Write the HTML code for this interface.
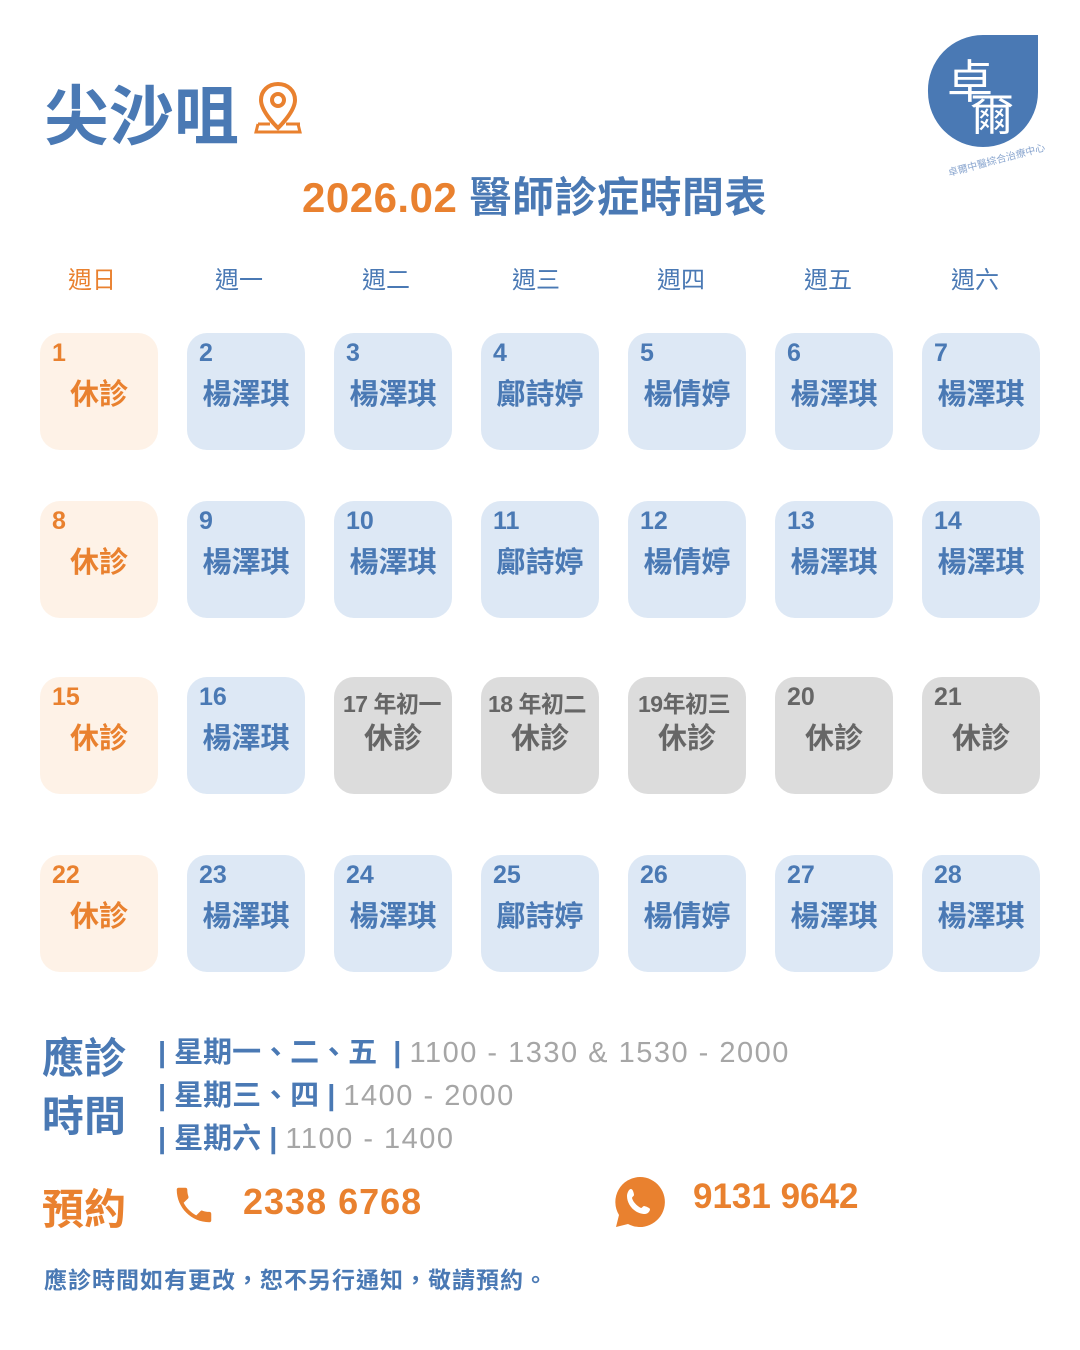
<!DOCTYPE html>
<html><head><meta charset="utf-8">
<style>
body{margin:0;width:1080px;height:1350px;background:#fff;position:relative;overflow:hidden;font-family:"Liberation Sans","Noto Sans CJK TC",sans-serif}
.a{position:absolute;white-space:nowrap}
.c{position:absolute;width:118px;height:117px;border-radius:20px;background:#dde8f5;color:#4a79b4}
.c.o{background:#fef2e7;color:#e9812f}
.c.g{background:#dcdcdc;color:#666}
.c .n{position:absolute;left:12px;top:6px;font-size:25px;font-weight:bold;white-space:nowrap}
.c .s{font-size:23px;top:8px;letter-spacing:-0.5px}
.c .t{position:absolute;left:0;right:0;top:38px;text-align:center;font-size:29px;font-weight:bold}
.h{position:absolute;top:260px;font-size:24px;color:#4a79b4;width:120px;text-align:center}
.gr{color:#a6a6a6;font-weight:normal;letter-spacing:1.5px}
</style></head><body>
<div class="a" style="left:44px;top:64px;font-size:65px;font-weight:bold;color:#4a79b4">尖沙咀</div>
<svg class="a" style="left:254px;top:80px" width="50" height="56" viewBox="0 0 50 56"><path d="M24 4C14 4 7 11 7 20c0 12 17 28 17 28s17-16 17-28C41 11 34 4 24 4z" fill="none" stroke="#e9812f" stroke-width="4"/><circle cx="24" cy="20" r="6" fill="none" stroke="#e9812f" stroke-width="4"/><path d="M4 44h12M32 44h14M4 44 2 52h44l-2-8" fill="none" stroke="#e9812f" stroke-width="3"/></svg>
<div class="a" style="left:302px;top:164px;font-size:42px;font-weight:bold;color:#e9812f;letter-spacing:0.5px">2026.02 <span style="color:#4a79b4">醫師診症時間表</span></div>
<svg class="a" style="left:900px;top:10px" width="170" height="170">
<path d="M28 82a55 55 0 1 0 110 0V25H83a55 55 0 0 0-55 57z" fill="#4a79b4"/>
<text x="70" y="88" font-size="46" fill="#fff" text-anchor="middle">卓</text>
<text x="92" y="120" font-size="44" fill="#fff" text-anchor="middle">爾</text>
<text x="48" y="158" font-size="10" fill="#8aa6cf" transform="rotate(-15 80 158)">卓爾中醫綜合治療中心</text>
</svg>
<div class="h" style="left:32px;color:#e9812f">週日</div>
<div class="h" style="left:179px">週一</div>
<div class="h" style="left:326px">週二</div>
<div class="h" style="left:476px">週三</div>
<div class="h" style="left:621px">週四</div>
<div class="h" style="left:768px">週五</div>
<div class="h" style="left:915px">週六</div>

<div class="c o" style="left:40px;top:333px"><span class="n">1</span><span class="t">休診</span></div>
<div class="c" style="left:187px;top:333px"><span class="n">2</span><span class="t">楊澤琪</span></div>
<div class="c" style="left:334px;top:333px"><span class="n">3</span><span class="t">楊澤琪</span></div>
<div class="c" style="left:481px;top:333px"><span class="n">4</span><span class="t">鄺詩婷</span></div>
<div class="c" style="left:628px;top:333px"><span class="n">5</span><span class="t">楊倩婷</span></div>
<div class="c" style="left:775px;top:333px"><span class="n">6</span><span class="t">楊澤琪</span></div>
<div class="c" style="left:922px;top:333px"><span class="n">7</span><span class="t">楊澤琪</span></div>

<div class="c o" style="left:40px;top:501px"><span class="n">8</span><span class="t">休診</span></div>
<div class="c" style="left:187px;top:501px"><span class="n">9</span><span class="t">楊澤琪</span></div>
<div class="c" style="left:334px;top:501px"><span class="n">10</span><span class="t">楊澤琪</span></div>
<div class="c" style="left:481px;top:501px"><span class="n">11</span><span class="t">鄺詩婷</span></div>
<div class="c" style="left:628px;top:501px"><span class="n">12</span><span class="t">楊倩婷</span></div>
<div class="c" style="left:775px;top:501px"><span class="n">13</span><span class="t">楊澤琪</span></div>
<div class="c" style="left:922px;top:501px"><span class="n">14</span><span class="t">楊澤琪</span></div>

<div class="c o" style="left:40px;top:677px"><span class="n">15</span><span class="t">休診</span></div>
<div class="c" style="left:187px;top:677px"><span class="n">16</span><span class="t">楊澤琪</span></div>
<div class="c g" style="left:334px;top:677px"><span class="n s" style="left:9px">17 年初一</span><span class="t">休診</span></div>
<div class="c g" style="left:481px;top:677px"><span class="n s" style="left:7px">18 年初二</span><span class="t">休診</span></div>
<div class="c g" style="left:628px;top:677px"><span class="n s" style="left:10px">19年初三</span><span class="t">休診</span></div>
<div class="c g" style="left:775px;top:677px"><span class="n">20</span><span class="t">休診</span></div>
<div class="c g" style="left:922px;top:677px"><span class="n">21</span><span class="t">休診</span></div>

<div class="c o" style="left:40px;top:855px"><span class="n">22</span><span class="t">休診</span></div>
<div class="c" style="left:187px;top:855px"><span class="n">23</span><span class="t">楊澤琪</span></div>
<div class="c" style="left:334px;top:855px"><span class="n">24</span><span class="t">楊澤琪</span></div>
<div class="c" style="left:481px;top:855px"><span class="n">25</span><span class="t">鄺詩婷</span></div>
<div class="c" style="left:628px;top:855px"><span class="n">26</span><span class="t">楊倩婷</span></div>
<div class="c" style="left:775px;top:855px"><span class="n">27</span><span class="t">楊澤琪</span></div>
<div class="c" style="left:922px;top:855px"><span class="n">28</span><span class="t">楊澤琪</span></div>

<div class="a" style="left:42px;top:1030px;font-size:42px;font-weight:bold;color:#4a79b4;line-height:58px">應診<br>時間</div>
<div class="a" style="left:158px;top:1032px;font-size:29px;font-weight:bold;color:#4a79b4;line-height:43px">| 星期一、二、五 &nbsp;| <span class="gr">1100 - 1330 &amp; 1530 - 2000</span><br>| 星期三、四 | <span class="gr">1400 - 2000</span><br>| 星期六 | <span class="gr">1100 - 1400</span></div>
<div class="a" style="left:42px;top:1176px;font-size:42px;font-weight:bold;color:#e9812f">預約</div>
<svg class="a" style="left:170px;top:1182px" width="48" height="46" viewBox="0 0 24 24"><path d="M6.6 10.8c1.4 2.8 3.8 5.1 6.6 6.6l2.2-2.2c.3-.3.7-.4 1-.2 1.1.4 2.3.6 3.6.6.6 0 1 .4 1 1V20c0 .6-.4 1-1 1C10.6 21 3 13.4 3 4c0-.6.4-1 1-1h3.5c.6 0 1 .4 1 1 0 1.3.2 2.5.6 3.6.1.3 0 .7-.2 1z" fill="#e9812f"/></svg>
<div class="a" style="left:243px;top:1181px;font-size:36px;font-weight:bold;color:#e9812f;letter-spacing:1px">2338 6768</div>
<svg class="a" style="left:612px;top:1174px" width="56" height="56" viewBox="0 0 56 56"><path d="M28 3a25 25 0 0 0-21 38L4 53l12-3A25 25 0 1 0 28 3z" fill="#e9812f"/><path d="M19 15c2 0 3 5 3 6s-2 2-2 3c1 4 5 8 9 10 1 0 2-2 3-2s6 2 6 3c0 3-3 5-5 5-10 0-18-9-18-18 0-3 2-7 4-7z" fill="#fff"/></svg>
<div class="a" style="left:693px;top:1177px;font-size:35px;font-weight:bold;color:#e9812f">9131 9642</div>
<div class="a" style="left:44px;top:1261px;font-size:23px;font-weight:bold;color:#4a79b4;letter-spacing:1px">應診時間如有更改，恕不另行通知，敬請預約。</div>
</body></html>
